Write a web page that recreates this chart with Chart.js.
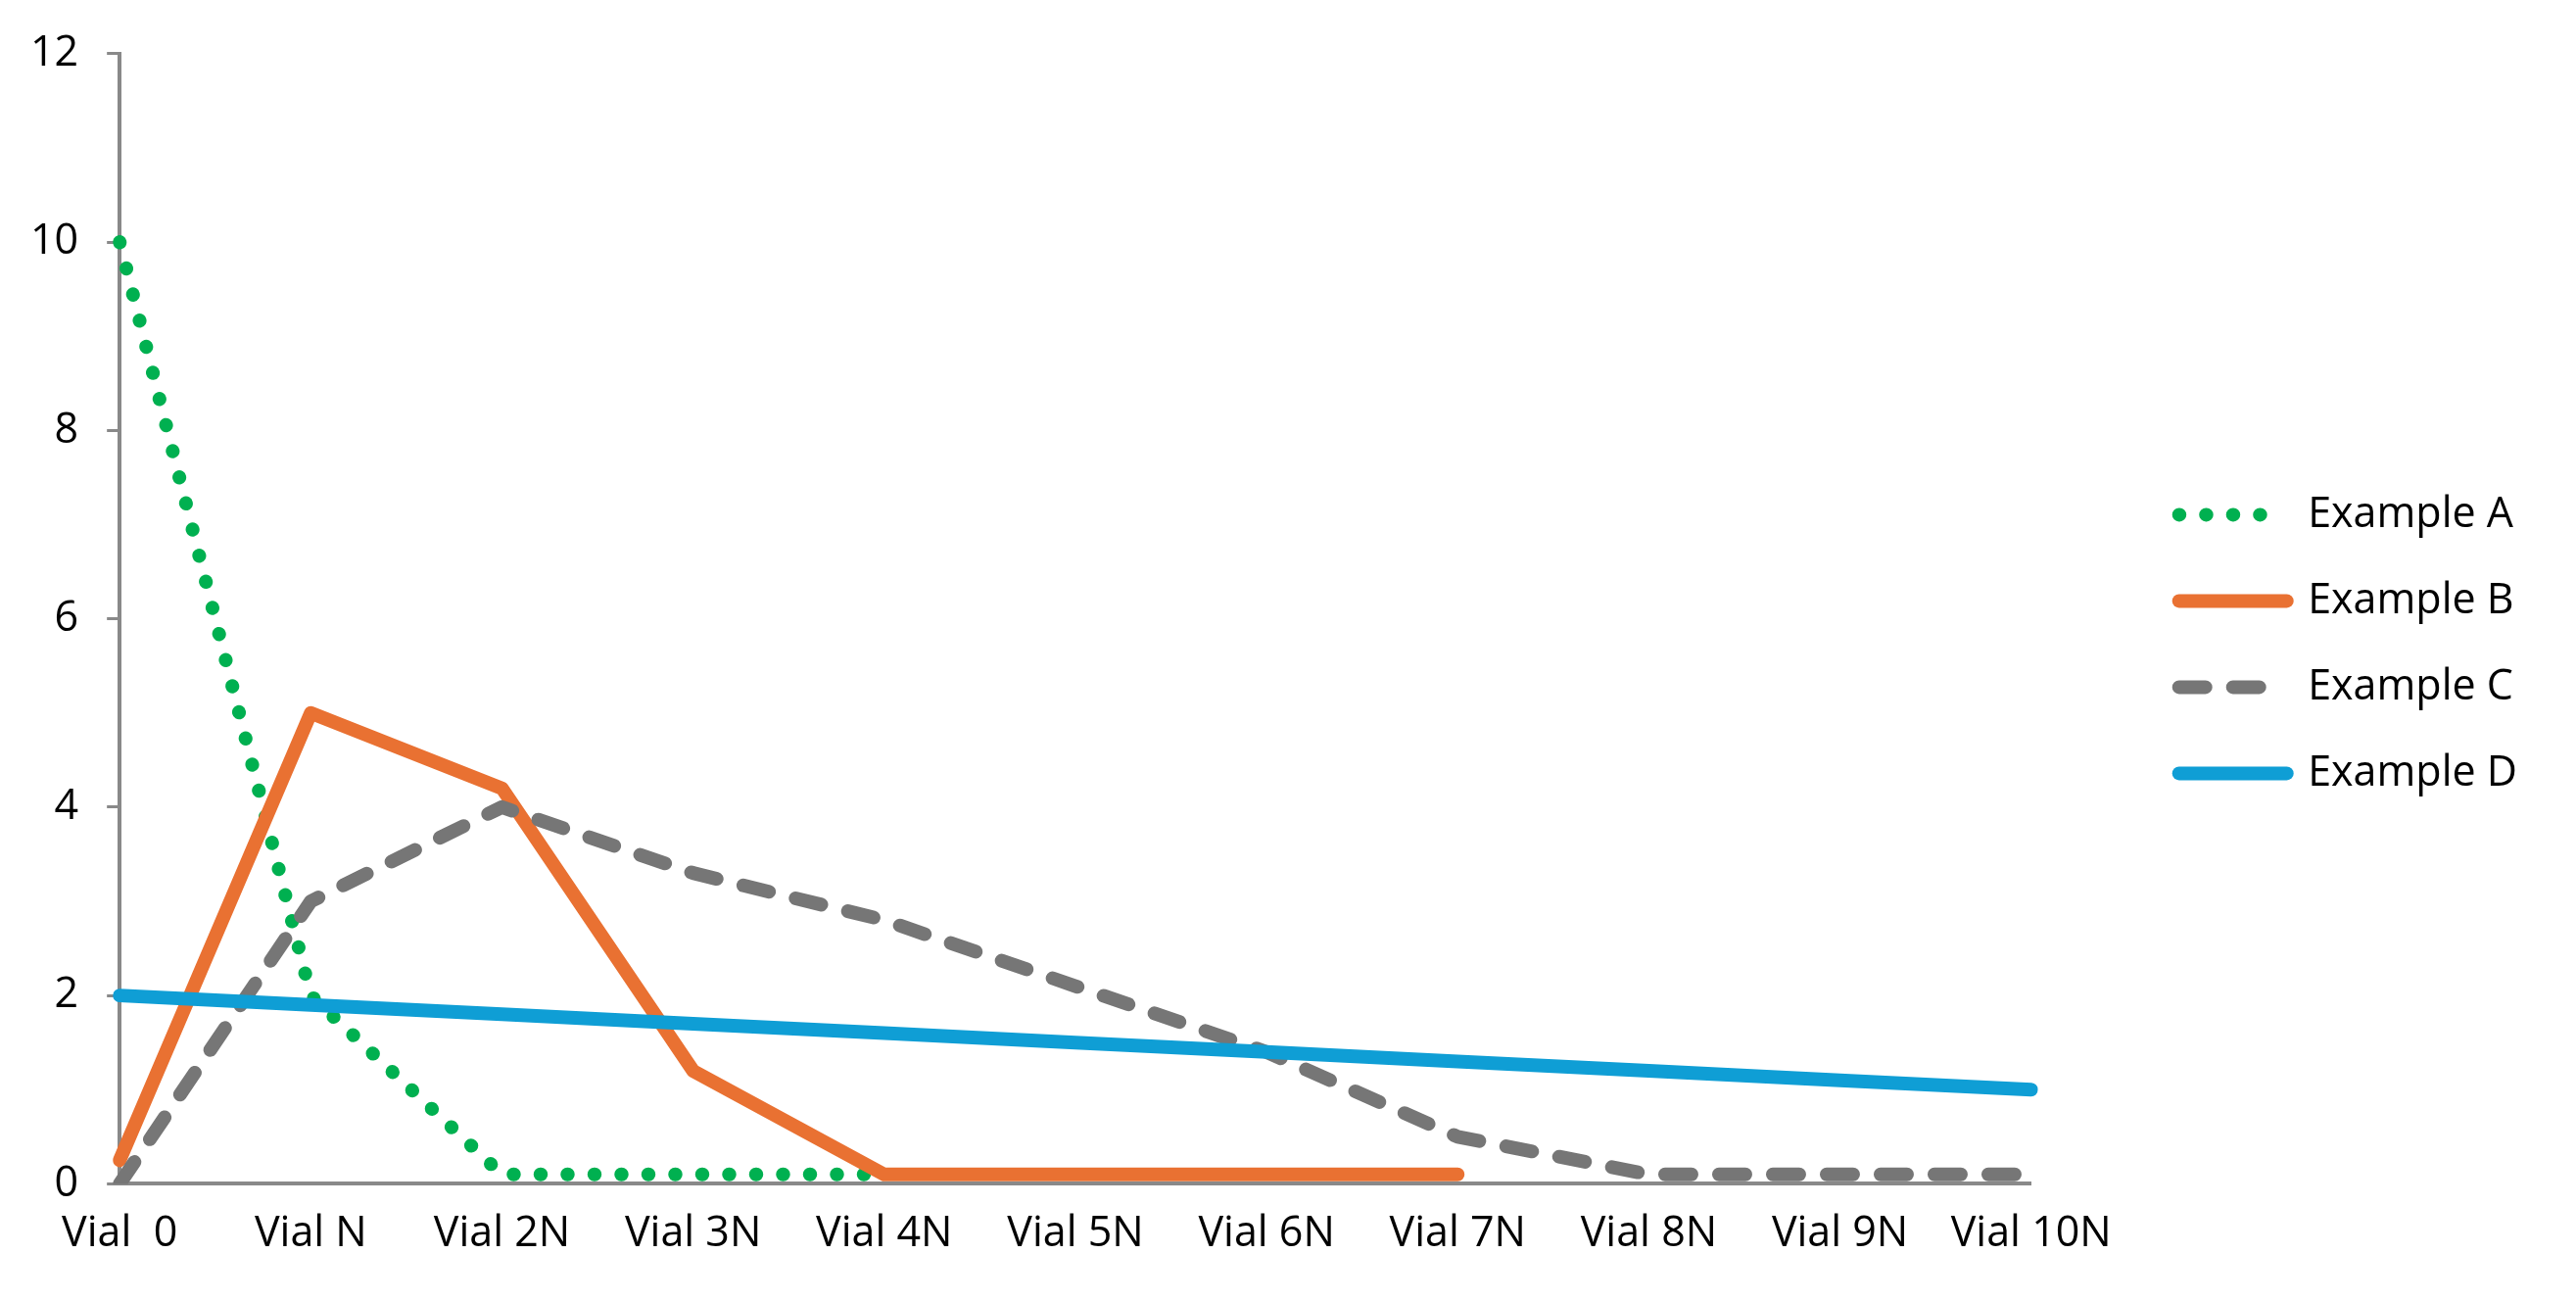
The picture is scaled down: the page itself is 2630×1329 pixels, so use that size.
<!DOCTYPE html>
<html>
<head>
<meta charset="utf-8">
<script src="https://cdn.jsdelivr.net/npm/chart.js@4.4.1/dist/chart.umd.min.js"></script>
<style>
  html, body { margin: 0; padding: 0; background: #fff; }
  #wrap { width: 2630px; height: 1329px; position: relative; }
</style>
</head>
<body>
<div id="wrap"><canvas id="vialChart"></canvas></div>
<script>
// --- DATA ---
const vials = ['Vial  0', 'Vial N', 'Vial 2N', 'Vial 3N', 'Vial 4N', 'Vial 5N', 'Vial 6N', 'Vial 7N', 'Vial 8N', 'Vial 9N', 'Vial 10N'];
const exampleA = [10, 2, 0.1, 0.1, 0.1, null, null, null, null, null, null];
const exampleB = [0.25, 5, 4.2, 1.2, 0.1, 0.1, 0.1, 0.1, null, null, null];
const exampleC = [0, 3, 4, 3.3, 2.8, 2.1, 1.4, 0.5, 0.1, 0.1, 0.1];
const exampleD = [2, 1.9, 1.8, 1.7, 1.6, 1.5, 1.4, 1.3, 1.2, 1.1, 1];
const yTicks = [0, 2, 4, 6, 8, 10, 12];

const axisGrey = '#898989';
const lineW = 14;

Chart.defaults.font.family = "'Open Sans', sans-serif";
Chart.defaults.font.size = 43;
Chart.defaults.color = '#000';

function serie(label, data, color, dash, order) {
  return {
    label: label,
    data: data,
    borderColor: color,
    backgroundColor: color,
    borderWidth: lineW,
    borderDash: dash,
    borderCapStyle: 'round',
    borderJoinStyle: 'round',
    pointRadius: 0,
    pointHoverRadius: 0,
    tension: 0,
    fill: false,
    order: order
  };
}

// la légende reprend le trait de la série (pointillés, tirets)
function legendLabels(chart) {
  return Chart.defaults.plugins.legend.labels.generateLabels(chart).map(item => {
    const ds = chart.data.datasets[item.datasetIndex];
    item.strokeStyle = ds.borderColor;
    item.fillStyle = ds.borderColor;
    item.lineDash = ds.borderDash;
    item.lineCap = 'round';
    item.lineWidth = lineW;
    return item;
  });
}

const ctx = document.getElementById('vialChart').getContext('2d');
new Chart(ctx, {
  type: 'line',
  data: {
    labels: vials,
    datasets: [
      serie('Example A', exampleA, '#00B050', [0.5, 27], 4),
      serie('Example B', exampleB, '#E97132', [], 3),
      serie('Example C', exampleC, '#767676', [27, 28], 2),
      serie('Example D', exampleD, '#0F9ED5', [], 1)
    ]
  },
  options: {
    responsive: true,
    maintainAspectRatio: false,
    animation: false,
    devicePixelRatio: 1,
    layout: { padding: { left: 2, right: 50, top: 54, bottom: 17 } },
    plugins: {
      tooltip: { enabled: false },
      legend: {
        position: 'right',
        fullSize: false,
        title: { display: true, text: ' ', padding: 0 },
        labels: {
          usePointStyle: true,
          pointStyle: 'line',
          pointStyleWidth: 110,
          padding: 45,
          color: '#000',
          generateLabels: legendLabels,
          sort: (a, b) => a.datasetIndex - b.datasetIndex
        }
      }
    },
    scales: {
      x: {
        grid: { display: false, drawTicks: false },
        border: { display: true, color: axisGrey, width: 4 },
        ticks: { padding: 26, maxRotation: 0, autoSkip: false, color: '#000' }
      },
      y: {
        min: 0,
        max: 12,
        afterBuildTicks: s => { s.ticks = yTicks.map(v => ({ value: v })); },
        grid: { display: true, drawOnChartArea: false, drawTicks: true, tickLength: 13, color: axisGrey, lineWidth: 3 },
        border: { display: true, color: axisGrey, width: 4 },
        ticks: { padding: 29, color: '#000' }
      },
      // espace vide entre la zone du graphe et la légende
      gap: {
        type: 'linear',
        position: 'right',
        grid: { display: false, drawTicks: false },
        border: { display: false },
        ticks: { display: false },
        afterFit: s => { s.width = 106; }
      }
    }
  }
});
</script>
</body>
</html>
